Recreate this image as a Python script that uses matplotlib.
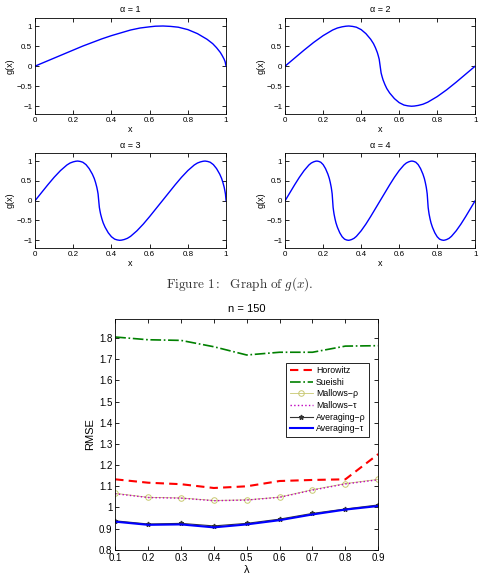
import numpy as np
import matplotlib
matplotlib.use("Agg")
import matplotlib.pyplot as plt

plt.rcParams['font.family'] = ['Liberation Sans', 'DejaVu Sans']
plt.rcParams['mathtext.fontset'] = 'cm'
plt.rcParams['axes.unicode_minus'] = True

# ---- g(x) curves, values ----
x_a1 = [0, .05, .1, .15, .2, .25, .3, .35, .4, .45, .5, .55, .6, .63, .67, .71, .75, .8,
        .85, .9, .93, .95, .97, .98, .99, .995, 1]
g_a1 = [0, .10, .20, .30, .40, .50, .59, .68, .76, .83, .90, .95, .98, .995, 1.0, .99,
        .97, .91, .81, .67, .56, .46, .34, .26, .17, .11, 0]

x_a2 = [0, .05, .1, .15, .2, .25, .275, .3, .32, .335, .355, .375, .4, .425, .45, .465,
        .475, .485, .49, .495, .5,
        .505, .51, .515, .525, .535, .55, .575, .6, .625, .645, .665, .68, .7, .725, .75,
        .8, .85, .9, .95, 1.0]
g_a2 = [0, .20, .40, .59, .76, .90, .95, .98, .995, 1.0, .99, .97, .91, .81, .67, .56,
        .46, .34, .26, .17, 0,
        -.17, -.26, -.34, -.46, -.56, -.67, -.81, -.91, -.97, -.99, -1.0, -.995, -.98,
        -.95, -.90, -.76, -.59, -.40, -.20, 0]

x_a3 = [0, .0333, .0667, .1, .1333, .1667, .1833, .2, .2133, .2233, .2367, .25, .2667,
        .2833, .3, .31, .3167, .3233, .3267, .33, .3333,
        .3367, .34, .3433, .35, .3567, .3667, .3833, .4, .4167, .43, .4433, .4533, .4667,
        .4833, .5, .5333, .5667, .6, .6333, .6667,
        .7, .7333, .7667, .8, .8333, .85, .8667, .88, .89, .9033, .9167, .9333, .95,
        .9667, .9767, .9833, .99, .9933, .9967, 1.0]
g_a3 = [0, .20, .40, .59, .76, .90, .95, .98, .995, 1.0, .99, .97, .91, .81, .67, .56,
        .46, .34, .26, .17, 0,
        -.17, -.26, -.34, -.46, -.56, -.67, -.81, -.91, -.97, -.99, -1.0, -.995, -.98,
        -.95, -.90, -.76, -.59, -.40, -.20, 0,
        .20, .40, .59, .76, .90, .95, .98, .995, 1.0, .99, .97, .91, .81, .67, .56,
        .46, .34, .26, .17, 0]

x_a4 = [0, .025, .05, .075, .1, .125, .1375, .15, .16, .1675, .1775, .1875, .2, .2125,
        .225, .2325, .2375, .2425, .245, .2475, .25,
        .2525, .255, .2575, .2625, .2675, .275, .2875, .3, .3125, .3225, .3325, .34, .35,
        .3625, .375, .4, .425, .45, .475, .5,
        .525, .55, .575, .6, .625, .6375, .65, .66, .6675, .6775, .6875, .7, .7125, .725,
        .7325, .7375, .7425, .745, .7475, .75,
        .7525, .755, .7575, .7625, .7675, .775, .7875, .8, .8125, .8225, .8325, .84, .85,
        .8625, .875, .9, .925, .95, .975, 1.0]
g_a4 = [0, .20, .40, .59, .76, .90, .95, .98, .995, 1.0, .99, .97, .91, .81, .67, .56,
        .46, .34, .26, .17, 0,
        -.17, -.26, -.34, -.46, -.56, -.67, -.81, -.91, -.97, -.99, -1.0, -.995, -.98,
        -.95, -.90, -.76, -.59, -.40, -.20, 0,
        .20, .40, .59, .76, .90, .95, .98, .995, 1.0, .99, .97, .91, .81, .67, .56,
        .46, .34, .26, .17, 0,
        -.17, -.26, -.34, -.46, -.56, -.67, -.81, -.91, -.97, -.99, -1.0, -.995, -.98,
        -.95, -.90, -.76, -.59, -.40, -.20, 0]

alphas = [1, 2, 3, 4]

# ---- RMSE vs lambda, n = 150 ----
lam = [0.1, 0.2, 0.3, 0.4, 0.5, 0.6, 0.7, 0.8, 0.9]
horowitz = [1.133, 1.117, 1.110, 1.092, 1.100, 1.125, 1.130, 1.133, 1.252]
sueishi = [1.805, 1.792, 1.789, 1.759, 1.720, 1.733, 1.733, 1.762, 1.764]
mallows_rho = [1.067, 1.048, 1.045, 1.033, 1.036, 1.049, 1.084, 1.113, 1.133]
mallows_tau = [1.065, 1.047, 1.044, 1.032, 1.035, 1.048, 1.082, 1.111, 1.131]
avg_rho = [0.937, 0.922, 0.925, 0.913, 0.925, 0.945, 0.972, 0.993, 1.012]
avg_tau = [0.933, 0.918, 0.920, 0.906, 0.920, 0.940, 0.967, 0.990, 1.007]


def style_axes(ax, size):
    ax.tick_params(direction='in', top=True, right=True, labelsize=size,
                   length=3, width=0.6, pad=2)
    for s in ax.spines.values():
        s.set_linewidth(0.6)


fig = plt.figure(figsize=(4.8, 5.8), dpi=100)

panel_pos = [
    [0.073, 0.803, 0.398, 0.166],
    [0.594, 0.803, 0.396, 0.166],
    [0.073, 0.572, 0.398, 0.164],
    [0.594, 0.572, 0.396, 0.164],
]
curves = [(x_a1, g_a1), (x_a2, g_a2), (x_a3, g_a3), (x_a4, g_a4)]

for pos, (xs, ys), a in zip(panel_pos, curves, alphas):
    ax = fig.add_axes(pos)
    ax.plot(xs, ys, color='#0000ff', lw=1.0)
    ax.set_xlim(0, 1)
    ax.set_ylim(-1.2, 1.2)
    ax.set_xticks([0, 0.2, 0.4, 0.6, 0.8, 1])
    ax.set_xticklabels(['0', '0.2', '0.4', '0.6', '0.8', '1'])
    ax.set_yticks([-1, -0.5, 0, 0.5, 1])
    ax.set_yticklabels(['\u22121', '\u22120.5', '0', '0.5', '1'])
    style_axes(ax, 5.8)
    ax.set_title('\u03b1 = %d' % a, fontsize=6.5, pad=4)
    ax.set_xlabel('x', fontsize=6.5, labelpad=1)
    ax.set_ylabel('g(x)', fontsize=6.5, labelpad=1)

fig.text(0.5, 0.51, r'$\mathrm{Figure\ 1{:}\ \ Graph\ of\ }g(x)\mathrm{.}$',
         ha='center', va='center', fontsize=9.5, color='#333333')

ax = fig.add_axes([0.24, 0.052, 0.548, 0.398])
ax.plot(lam, horowitz, color='#ff0000', ls='--', lw=1.5, dashes=(4, 2.5), label='Horowitz')
ax.plot(lam, sueishi, color='#008000', ls='-.', lw=1.2, label='Sueishi')
ax.plot(lam, mallows_rho, color='#c8c870', ls='-', lw=0.6, marker='o', ms=4,
        mfc='none', mew=0.7, label='Mallows\u2212\u03c1')
ax.plot(lam, mallows_tau, color='#bf00bf', ls=':', lw=1.0, label='Mallows\u2212\u03c4')
ax.plot(lam, avg_rho, color='#333333', ls='-', lw=0.8, marker='*', ms=3.5,
        label='Averaging\u2212\u03c1')
ax.plot(lam, avg_tau, color='#0000ff', ls='-', lw=1.5, label='Averaging\u2212\u03c4')
ax.set_xlim(0.1, 0.9)
ax.set_ylim(0.8, 1.89)
ax.set_xticks(lam)
ax.set_yticks([0.8, 0.9, 1.0, 1.1, 1.2, 1.3, 1.4, 1.5, 1.6, 1.7, 1.8])
ax.set_yticklabels(['0.8', '0.9', '1', '1.1', '1.2', '1.3', '1.4', '1.5', '1.6', '1.7', '1.8'])
style_axes(ax, 7)
ax.set_title('n = 150', fontsize=8, pad=5)
ax.set_xlabel('\u03bb', fontsize=8, labelpad=2)
ax.set_ylabel('RMSE', fontsize=8, labelpad=3)
leg = ax.legend(loc='upper right', bbox_to_anchor=(0.982, 0.83), fontsize=6.3,
                frameon=True, fancybox=False, edgecolor='black', framealpha=1,
                handlelength=2.6, borderpad=0.4, labelspacing=0.3, handletextpad=0.4)
leg.get_frame().set_linewidth(0.6)

fig.savefig('out.png', dpi=100)
